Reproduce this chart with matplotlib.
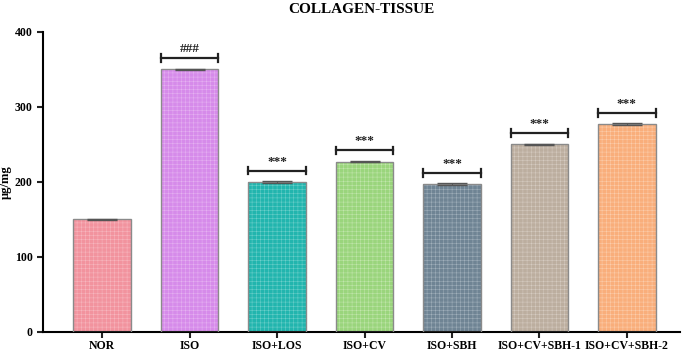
import matplotlib
matplotlib.use("Agg")
import matplotlib.pyplot as plt
import numpy as np

groups = ["NOR", "ISO", "ISO+LOS", "ISO+CV", "ISO+SBH", "ISO+CV+SBH-1", "ISO+CV+SBH-2"]
values = [150, 350, 200, 227, 197, 250, 277]
errors = [1, 1, 1, 1, 1, 1, 1]
marks = ["", "###", "***", "***", "***", "***", "***"]
colors = ["#F2939E", "#D68BEA", "#22B5AE", "#9AD57C", "#6F8494", "#BCAE9F", "#F9AE7B"]
hatch_colors = ["#F7B8C0", "#E6B3F2", "#6FD0CB", "#C3E7AE", "#A3B2BD", "#D6CCC2", "#FCCEAD"]

plt.rcParams["font.family"] = ["Liberation Serif", "DejaVu Serif"]
plt.rcParams["font.weight"] = "bold"
plt.rcParams["hatch.linewidth"] = 0.35

fig = plt.figure(figsize=(6.85, 3.55), dpi=100)
ax = fig.add_axes([0.063, 0.065, 0.93, 0.845])

x = np.arange(len(groups))
w = 0.66
for i in x:
    ax.bar(i, values[i], w, color=colors[i], edgecolor=hatch_colors[i],
           hatch="++++", linewidth=0, zorder=2)
    ax.bar(i, values[i], w, fill=False, edgecolor="#8a8a8a", linewidth=1.0, zorder=3)
ax.errorbar(x, values, yerr=errors, fmt="none", ecolor="#555555",
            capsize=11, elinewidth=0.8, capthick=1.0, zorder=4)

# significance brackets
for i in x:
    if not marks[i]:
        continue
    y = values[i] + 15
    ax.plot([i - w / 2, i + w / 2], [y, y], color="#222222", lw=1.6, zorder=5)
    ax.plot([i - w / 2, i - w / 2], [y - 5, y + 5], color="#222222", lw=1.6, zorder=5)
    ax.plot([i + w / 2, i + w / 2], [y - 5, y + 5], color="#222222", lw=1.6, zorder=5)
    ax.text(i, y + 4, marks[i], ha="center", va="bottom", fontsize=9.5,
            fontweight="bold", color="#222222")

ax.set_xlim(-0.675, 6.61)
ax.set_ylim(0, 400)
ax.set_yticks([0, 100, 200, 300, 400])
ax.set_xticks(x)
ax.set_xticklabels(groups)
ax.tick_params(axis="both", labelsize=8.5, width=1.5, length=4, color="#222222")
ax.tick_params(axis="x", pad=2)
ax.spines["top"].set_visible(False)
ax.spines["right"].set_visible(False)
ax.spines["left"].set_linewidth(1.5)
ax.spines["bottom"].set_linewidth(1.5)
ax.set_ylabel("μg/mg", fontsize=9, fontweight="bold", labelpad=2)
ax.set_title("COLLAGEN-TISSUE", fontsize=11, fontweight="bold", pad=14)

fig.savefig("out.png", dpi=100)
